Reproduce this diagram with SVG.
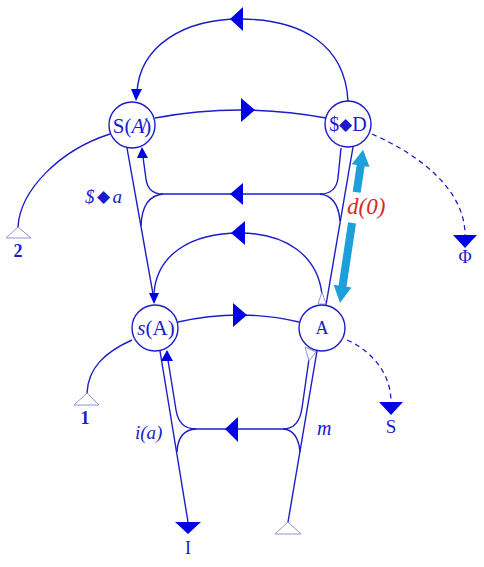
<svg xmlns="http://www.w3.org/2000/svg" width="484" height="567" viewBox="0 0 484 567">
<style>
.ln{fill:none;stroke:#1c1cc8;stroke-width:1.4}
.ds{fill:none;stroke:#1c1cc8;stroke-width:1.3;stroke-dasharray:5 4}
.ah{fill:#0000e6;stroke:none}
.nd{fill:#fff;stroke:#1c1cc8;stroke-width:1.4}
.ho{fill:#fff;stroke:#8888cc;stroke-width:0.9}
.tx{font-family:"Liberation Serif","Times New Roman",serif;fill:#1a1acc}
.it{font-style:italic}
.cy{fill:#1ca0dc}
</style>
<rect width="484" height="567" fill="#fff"/>
<g id="connectors">
<path class="ln" d="M348,101 C345,45 302,19 240,19 C185,19 140,45 137,92"/>
<polygon class="ah" points="230,19 243,7 243,31"/>
<polygon class="ah" points="136,101 131,89 142,89"/>
<path class="ln" d="M155,118 Q240,102 326,118"/>
<polygon class="ah" points="255,110 241,98 241,122"/>
<path class="ln" d="M127,148 L153,294"/>
<path class="ln" d="M322,295 C318,255 285,233 240,233 C190,233 157,255 154,293"/>
<polygon class="ah" points="231,233 245,221 245,245"/>
<polygon class="ah" points="154,304 149,293 159,293"/>
<path class="ln" d="M163,194 L320,194"/>
<polygon class="ah" points="230,194 243,183 243,205"/>
<path class="ln" d="M143,157 L146,179 Q148,194 163,194"/>
<polygon class="ah" points="142,147 137,158 148,158"/>
<path class="ln" d="M163,194 Q142,196 141,226"/>
<path class="ln" d="M341,148 L338,178 Q336,194 320,194"/>
<path class="ln" d="M320,194 Q338,196 340,221"/>
<path class="ln" d="M353,147 L326,305"/>
<path class="ln" d="M178,322 Q240,308 299,322"/>
<polygon class="ah" points="247,315 233,303 233,327"/>
<path class="ln" d="M160,351 L188,522"/>
<path class="ln" d="M168,360 L176,410 Q179,429 196,429"/>
<polygon class="ah" points="167,350 161,361 173,361"/>
<path class="ln" d="M196,429 L283,429"/>
<polygon class="ah" points="225,429 238,417 238,442"/>
<path class="ln" d="M196,429 Q178,430 177,452"/>
<path class="ln" d="M317,351 L288,522"/>
<path class="ln" d="M310,352 L302,408 Q299,429 283,429"/>
<path class="ln" d="M283,429 Q298,430 300,452"/>
<polygon class="ho" points="322,292 318,304 326,304"/>
<polygon class="ho" points="305,347 316,352 309,361"/>
<path class="ln" d="M110,134 C60,150 20,190 18,227"/>
<path class="ln" d="M132,340 C105,352 88,368 87,393"/>
<path class="ds" d="M372,134 C420,155 465,190 465,235"/>
<path class="ds" d="M347,340 C370,350 391,372 391,402"/>
<g transform="translate(340,303) rotate(8.55)">
<polygon class="cy" points="0,-155 9,-139 4,-139 4,-112 -4,-112 -4,-139 -9,-139"/>
<polygon class="cy" points="-4,-81 4,-81 4,-17 9,-17 0,0 -9,-17 -4,-17"/>
</g>
</g>
<g id="node-SA">
<circle class="nd" cx="132" cy="125" r="23"/>
<text class="tx" x="132" y="133" font-size="21" text-anchor="middle">S(<tspan class="it">A̸</tspan>)</text>
</g>
<g id="node-SD">
<circle class="nd" cx="348" cy="124" r="23"/>
<text class="tx" x="348" y="131" font-size="20" text-anchor="middle">$<tspan font-size="17" dy="-1">◆</tspan><tspan dy="1">D</tspan></text>
</g>
<g id="node-sA">
<circle class="nd" cx="155" cy="328" r="23"/>
<text class="tx" x="156" y="335" font-size="21" text-anchor="middle"><tspan class="it">s</tspan>(A)</text>
</g>
<g id="node-A">
<circle class="nd" cx="322" cy="328" r="23"/>
<text class="tx" x="322" y="334" font-size="18" text-anchor="middle">A</text>
</g>
<g id="term-2">
<polygon class="ho" points="18,227 6,238 31,238"/>
<text class="tx" x="18" y="257" font-size="18" font-weight="bold" text-anchor="middle">2</text>
</g>
<g id="term-1">
<polygon class="ho" points="87,393 74,405 99,405"/>
<text class="tx" x="85" y="424" font-size="18" font-weight="bold" text-anchor="middle">1</text>
</g>
<g id="term-I">
<polygon class="ah" points="175,522 201,522 188,534"/>
<text class="tx" x="188" y="554" font-size="18" text-anchor="middle">I</text>
</g>
<g id="term-bottom">
<polygon class="ho" points="288,522 275,534 301,534"/>
</g>
<g id="term-Phi">
<polygon class="ah" points="453,235 477,235 465,248"/>
<text class="tx" x="465" y="263" font-size="18" text-anchor="middle">Φ</text>
</g>
<g id="term-S">
<polygon class="ah" points="379,402 403,402 391,415"/>
<text class="tx" x="391" y="433" font-size="19" text-anchor="middle">S</text>
</g>
<g id="labels">
<text class="tx" x="85" y="203" font-size="19"><tspan class="it">$</tspan><tspan dx="2" font-size="17" dy="-1">◆</tspan><tspan class="it" dx="3" dy="1">a</tspan></text>
<text class="tx it" x="135" y="439" font-size="19">i(a)</text>
<text class="tx it" x="317" y="435" font-size="20">m</text>
<text x="347" y="214" font-size="23" font-style="italic" font-family="Liberation Serif,serif" fill="#d42a2a">d(0)</text>
</g>
</svg>
